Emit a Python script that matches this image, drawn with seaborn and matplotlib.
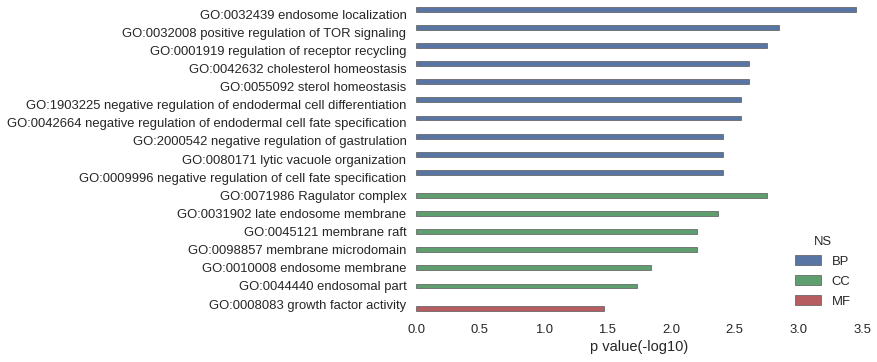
import matplotlib
matplotlib.use("Agg")
import matplotlib.pyplot as plt
import seaborn as sns
import pandas as pd

terms = [
    "GO:0032439 endosome localization",
    "GO:0032008 positive regulation of TOR signaling",
    "GO:0001919 regulation of receptor recycling",
    "GO:0042632 cholesterol homeostasis",
    "GO:0055092 sterol homeostasis",
    "GO:1903225 negative regulation of endodermal cell differentiation",
    "GO:0042664 negative regulation of endodermal cell fate specification",
    "GO:2000542 negative regulation of gastrulation",
    "GO:0080171 lytic vacuole organization",
    "GO:0009996 negative regulation of cell fate specification",
    "GO:0071986 Ragulator complex",
    "GO:0031902 late endosome membrane",
    "GO:0045121 membrane raft",
    "GO:0098857 membrane microdomain",
    "GO:0010008 endosome membrane",
    "GO:0044440 endosomal part",
    "GO:0008083 growth factor activity",
]
ns = ["BP"] * 10 + ["CC"] * 6 + ["MF"]
pvals = [3.45, 2.85, 2.755, 2.61, 2.61, 2.55, 2.55, 2.41, 2.41, 2.41,
         2.755, 2.37, 2.20, 2.20, 1.84, 1.73, 1.476]
ns_order = ["BP", "CC", "MF"]
colors = ["#4C72B0", "#55A868", "#C44E52"]

df = pd.DataFrame({"term": terms, "NS": ns, "pval": pvals})

sns.set_theme(style="white")
plt.rcParams["font.family"] = ["Liberation Sans", "DejaVu Sans"]
plt.rcParams["text.color"] = ".15"
plt.rcParams["axes.labelcolor"] = ".15"
plt.rcParams["xtick.color"] = ".15"
plt.rcParams["ytick.color"] = ".15"

fig = plt.figure(figsize=(8.78, 3.62), dpi=100)
ax = fig.add_axes([0.474, 0.135, 0.508, 0.851])
sns.barplot(data=df, x="pval", y="term", hue="NS", hue_order=ns_order,
            palette=colors, orient="h", dodge=True, width=0.8,
            edgecolor="0.35", linewidth=0.5, ax=ax)
ax.set_xlim(0, 3.5)
ax.set_xticks([0, 0.5, 1.0, 1.5, 2.0, 2.5, 3.0, 3.5])
ax.set_xticklabels(["0.0", "0.5", "1.0", "1.5", "2.0", "2.5", "3.0", "3.5"])
ax.set_xlabel("p value(-log10)", fontsize=10.5, labelpad=3)
ax.set_ylabel("")
ax.tick_params(axis="y", labelsize=9.4, length=0, pad=7)
ax.tick_params(axis="x", labelsize=9.4, length=0, pad=8)
sns.despine(ax=ax, left=True, bottom=True)
sns.move_legend(ax, "lower right", frameon=False, title="NS",
                fontsize=9.4, title_fontsize=9.4, labelspacing=0.6,
                bbox_to_anchor=(1.0, -0.02))
fig.savefig("out.png", dpi=100)
